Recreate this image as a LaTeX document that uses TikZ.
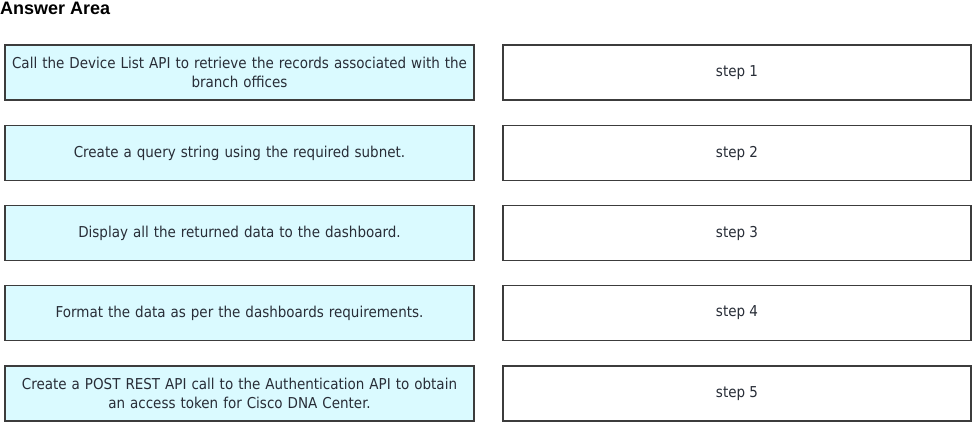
\documentclass[tikz,border=0pt]{standalone}
\usepackage{fontspec}
\setmainfont{DejaVu Sans Condensed}
\newfontfamily\titlefont{Liberation Sans}
\definecolor{boxfill}{RGB}{218,250,255}
\definecolor{boxline}{RGB}{60,60,60}
\definecolor{txt}{RGB}{40,45,55}
\begin{document}
\begin{tikzpicture}[x=1pt,y=-1pt,
  base/.style={draw=boxline,line width=1.3pt,inner sep=0pt,align=center,text=txt,font=\fontsize{15}{19}\selectfont},
  leftbox/.style={base,fill=boxfill,minimum width=469pt,minimum height=55pt,text width=467pt},
  rightbox/.style={base,fill=white,minimum width=468pt,minimum height=55pt}]
\useasboundingbox (0,0) rectangle (973,422);
\node[anchor=west,inner sep=0pt,font=\titlefont\bfseries\fontsize{18}{20}\selectfont] (title) at (0,8) {Answer Area};
\node[leftbox] (a1) at (239.5,72.5) {Call the Device List API to retrieve the records associated with the\\branch offices};
\node[leftbox] (a2) at (239.5,153) {Create a query string using the required subnet.};
\node[leftbox] (a3) at (239.5,233) {Display all the returned data to the dashboard.};
\node[leftbox] (a4) at (239.5,313) {Format the data as per the dashboards requirements.};
\node[leftbox] (a5) at (239.5,393.5) {Create a POST REST API call to the Authentication API to obtain\\an access token for Cisco DNA Center.};
\node[rightbox] (s1) at (737,72.5) {step 1};
\node[rightbox] (s2) at (737,153) {step 2};
\node[rightbox] (s3) at (737,233) {step 3};
\node[rightbox] (s4) at (737,313) {step 4};
\node[rightbox] (s5) at (737,393.5) {step 5};
\end{tikzpicture}
\end{document}
